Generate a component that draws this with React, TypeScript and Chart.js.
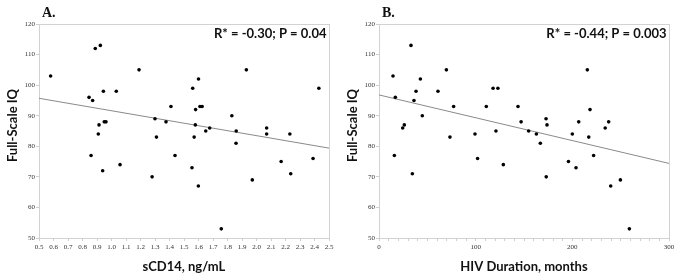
import React, { useEffect, useRef } from 'react';
import { Chart, registerables } from 'chart.js';
Chart.register(...registerables);

// Panel A: sCD14 (ng/mL) vs Full-Scale IQ
const A_SCD14 = [
  0.58, 0.888, 0.923, 1.19, 0.845, 0.87, 0.944, 1.033, 0.914, 0.95, 0.962, 0.909,
  1.30, 1.376, 1.41, 1.31, 1.56, 1.60, 1.58, 1.61, 1.625, 1.578, 1.57, 1.65, 1.677,
  1.93, 1.83, 1.86, 2.07, 2.07, 2.23, 2.43, 0.859, 0.939, 1.059, 1.28, 1.438, 1.555,
  1.599, 1.757, 1.859, 1.971, 2.17, 2.236, 2.39,
];
const A_IQ = [
  103, 112, 113, 105, 96, 95, 98, 98, 87, 88, 88, 84,
  89, 88, 93, 83, 99, 102, 92, 93, 93, 87, 83, 85, 86,
  105, 90, 85, 86, 84, 84, 99, 77, 72, 74, 70, 77, 73,
  67, 53, 81, 69, 75, 71, 76,
];
const A_FIT_X = [0.5, 2.5];
const A_FIT_Y = [95.7, 79.4];

// Panel B: HIV duration (months) vs Full-Scale IQ
const B_MONTHS = [
  14.5, 16.9, 33.1, 69.7, 42.8, 38.3, 36.2, 61, 44.8, 77.2, 24.5, 26.2, 73.4, 99.3,
  118, 123, 111, 121, 143.8, 147, 154.8, 162.8, 172.8, 173.8, 200, 206.6, 215.5,
  218.3, 217, 234, 237.6, 15.9, 34.5, 102, 128.6, 166.9, 173, 196, 203.8, 222,
  239.7, 249.7, 259,
];
const B_IQ = [
  103, 96, 113, 105, 102, 98, 95, 98, 90, 93, 86, 87, 83, 84,
  99, 99, 93, 85, 93, 88, 85, 84, 89, 87, 84, 88, 105,
  92, 83, 86, 88, 77, 71, 76, 74, 81, 70, 75, 73, 77,
  67, 69, 53,
];
const B_FIT_X = [0, 300];
const B_FIT_Y = [96.8, 74.4];

const Y_AXIS_TITLE = 'Full-Scale IQ';
const A_X_TITLE = 'sCD14, ng/mL';
const B_X_TITLE = 'HIV Duration, months';
const A_STAT = 'R* = -0.30; P = 0.04';
const B_STAT = 'R* = -0.44; P = 0.003';

const SANS = 'Lato, "Open Sans", "Liberation Sans", sans-serif';
const SERIF = '"Liberation Serif", "DejaVu Serif", serif';

type PanelOpts = {
  xs: number[];
  ys: number[];
  fitX: number[];
  fitY: number[];
  xMin: number;
  xMax: number;
  xStep: number;
  xLabel: (v: number) => string;
  panel: string;
  stat: string;
  xTitle: string;
};

function makeConfig(o: PanelOpts): any {
  const annot = {
    id: 'annot',
    beforeDatasetsDraw(chart: any) {
      const { ctx, chartArea: a } = chart;
      ctx.save();
      ctx.strokeStyle = '#d2d2d2';
      ctx.lineWidth = 1;
      ctx.strokeRect(Math.round(a.left) + 0.5, Math.round(a.top) + 0.5, Math.round(a.right - a.left), Math.round(a.bottom - a.top));
      ctx.restore();
    },
    afterDraw(chart: any) {
      const { ctx, chartArea: a } = chart;
      ctx.save();
      ctx.fillStyle = '#111';
      // panel letter
      ctx.font = `bold 14px ${SERIF}`;
      ctx.textAlign = 'left';
      ctx.textBaseline = 'alphabetic';
      ctx.fillText(o.panel, 42, 17);
      // stat
      ctx.font = `bold 13px ${SANS}`;
      ctx.textAlign = 'right';
      ctx.fillText(o.stat, 326.5, 37.7);
      // x title
      ctx.textAlign = 'center';
      ctx.fillText(o.xTitle, (a.left + a.right) / 2, 271);
      // y title
      ctx.translate(16.5, 125.5);
      ctx.rotate(-Math.PI / 2);
      ctx.textAlign = 'center';
      ctx.fillText(Y_AXIS_TITLE, 0, 0);
      ctx.restore();
    },
  };
  return {
    type: 'scatter',
    data: {
      datasets: [
        {
          data: o.xs.map((x, i) => ({ x, y: o.ys[i] })),
          pointRadius: 1.8,
          pointBackgroundColor: '#000',
          pointBorderWidth: 0,
          order: 1,
        },
        {
          data: o.fitX.map((x, i) => ({ x, y: o.fitY[i] })),
          showLine: true,
          borderColor: '#8a8a8a',
          borderWidth: 1,
          pointRadius: 0,
          order: 2,
        },
      ],
    },
    options: {
      responsive: false,
      animation: false,
      devicePixelRatio: 1,
      layout: { padding: { left: 0, right: 11, top: 24, bottom: 0 } },
      plugins: { legend: { display: false }, tooltip: { enabled: false } },
      scales: {
        x: {
          type: 'linear',
          min: o.xMin,
          max: o.xMax,
          afterFit: (s: any) => { s.height = 42; },
          grid: { drawOnChartArea: false, drawTicks: true, tickLength: 3, color: '#cfcfcf' },
          border: { color: '#cfcfcf' },
          ticks: {
            stepSize: o.xStep,
            autoSkip: false,
            maxRotation: 0,
            padding: 2,
            color: '#333',
            font: { family: SERIF, size: 7 },
            callback: (v: any) => o.xLabel(Number(v)),
          },
        },
        y: {
          type: 'linear',
          min: 50,
          max: 120,
          afterFit: (s: any) => { s.width = 39; },
          grid: { drawOnChartArea: false, drawTicks: true, tickLength: 3, color: '#cfcfcf' },
          border: { color: '#cfcfcf' },
          ticks: {
            stepSize: 10,
            padding: 1,
            color: '#333',
            font: { family: SERIF, size: 7 },
          },
        },
      },
    },
    plugins: [annot],
  };
}

function Panel({ opts, left }: { opts: PanelOpts; left: number }) {
  const ref = useRef<HTMLCanvasElement | null>(null);
  useEffect(() => {
    if (!ref.current) return;
    const chart = new Chart(ref.current, makeConfig(opts));
    return () => chart.destroy();
  }, []);
  return (
    <canvas
      ref={ref}
      width={340}
      height={280}
      style={{ position: 'absolute', left, top: 0, width: 340, height: 280 }}
    />
  );
}

const panelA: PanelOpts = {
  xs: A_SCD14,
  ys: A_IQ,
  fitX: A_FIT_X,
  fitY: A_FIT_Y,
  xMin: 0.5,
  xMax: 2.5,
  xStep: 0.1,
  xLabel: (v) => v.toFixed(1),
  panel: 'A.',
  stat: A_STAT,
  xTitle: A_X_TITLE,
};

const panelB: PanelOpts = {
  xs: B_MONTHS,
  ys: B_IQ,
  fitX: B_FIT_X,
  fitY: B_FIT_Y,
  xMin: 0,
  xMax: 300,
  xStep: 10,
  xLabel: (v) => (Math.round(v) % 100 === 0 ? String(Math.round(v)) : ''),
  panel: 'B.',
  stat: B_STAT,
  xTitle: B_X_TITLE,
};

export default function App() {
  return (
    <div style={{ position: 'absolute', left: 0, top: 0, width: 680, height: 280, background: '#fff', overflow: 'hidden' }}>
      <Panel opts={panelA} left={0} />
      <Panel opts={panelB} left={340} />
    </div>
  );
}
